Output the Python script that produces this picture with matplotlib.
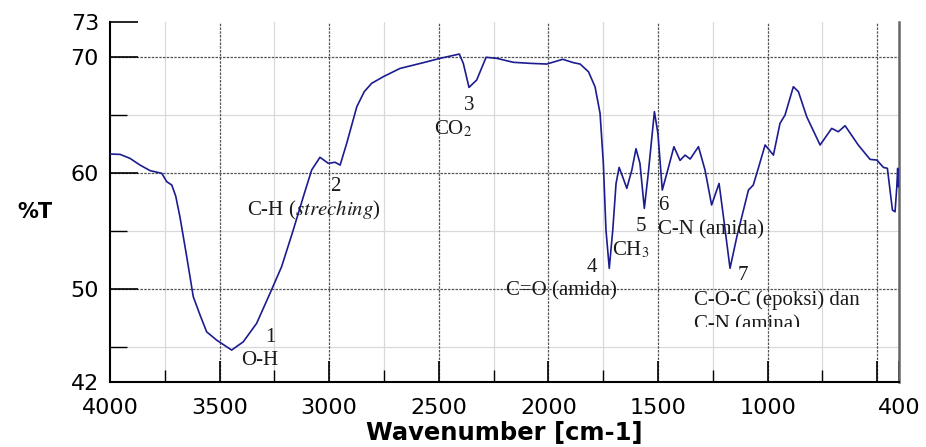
import numpy as np
import matplotlib
matplotlib.use('Agg')
import matplotlib.pyplot as plt
from matplotlib.transforms import Bbox, TransformedBbox

plt.rcParams['font.family'] = ['DejaVu Sans']
plt.rcParams['mathtext.fontset'] = 'stix'

# spektrum FTIR
wavenumber = [4000, 3954, 3909, 3863, 3817, 3764, 3741, 3718, 3700, 3681, 3650,
              3620, 3589, 3559, 3513, 3445, 3392, 3331, 3270, 3217, 3164,
              3118, 3080, 3042, 3004, 2973, 2950, 2920, 2874, 2840, 2806, 2753,
              2677, 2570, 2494, 2406, 2388, 2362, 2327, 2284, 2235, 2160,
              2084, 2007, 1934, 1886, 1855, 1817, 1787, 1764, 1749, 1737,
              1722, 1706, 1691, 1677, 1661, 1642, 1619, 1600, 1582, 1562,
              1544, 1516, 1500, 1480, 1453, 1427, 1399, 1376, 1353, 1315,
              1285, 1255, 1221, 1201, 1171, 1140, 1087, 1065, 1042, 1011,
              973, 943, 920, 882, 859, 821, 760, 707, 677, 646,
              586, 532, 501, 471, 453, 430, 418, 410, 406, 403, 400]
transmittance = [61.63, 61.6, 61.26, 60.68, 60.2, 59.97, 59.25, 58.96, 58.0, 56.23, 52.8,
                 49.34, 47.76, 46.32, 45.6, 44.75, 45.46, 47.05, 49.63, 51.93, 55.08,
                 57.95, 60.25, 61.35, 60.83, 60.92, 60.68, 62.55, 65.7, 67.0, 67.72, 68.29,
                 69.0, 69.5, 69.87, 70.24, 69.44, 67.37, 68.0, 69.96, 69.87, 69.53,
                 69.44, 69.38, 69.79, 69.5, 69.38, 68.72, 67.43, 65.14, 60.83, 55.08,
                 51.79, 55.08, 59.1, 60.48, 59.68, 58.68, 60.25, 62.09, 60.83, 56.95,
                 59.97, 65.28, 63.4, 58.53, 60.4, 62.26, 61.08, 61.54, 61.2, 62.26,
                 60.25, 57.24, 59.1, 56.23, 51.79, 54.5, 58.53, 58.96, 60.4, 62.41,
                 61.54, 64.27, 64.99, 67.43, 67.0, 64.84, 62.41, 63.84, 63.55, 64.07,
                 62.41, 61.17, 61.11, 60.48, 60.4, 56.81, 56.66, 58.81, 60.4, 58.81, 59.0]

xticks = [4000, 3500, 3000, 2500, 2000, 1500, 1000, 500, 400]
xticklabels = ['4000', '3500', '3000', '2500', '2000', '1500', '1000', '', '400']
xminor = [3750, 3250, 2750, 2250, 1750, 1250, 750]
yticks = [73, 70, 60, 50, 42]
ygrid = [70, 60, 50]
yminor = [65, 55, 45]

# label puncak: (teks, x, y, rata)
peak_labels = [
    ('1', 3270, 45.44, 'center'),
    ('O-H', 3316, 43.46, 'center'),
    ('2', 2973, 58.45, 'center'),
    ('C-H ($\\mathit{streching}$)', 3069, 56.38, 'center'),
    ('3', 2362, 65.42, 'center'),
    ('CO$_2$', 2435, 63.36, 'center'),
    ('4', 1801, 51.47, 'center'),
    ('C=O (amida)', 1938, 49.49, 'center'),
    ('5', 1577, 55.0, 'center'),
    ('CH$_3$', 1623, 52.94, 'center'),
    ('6', 1477, 56.81, 'center'),
    ('C-N (amida)', 1500, 54.66, 'left'),
    ('7', 1112, 50.78, 'center'),
    ('C-O-C (epoksi) dan', 1335, 48.63, 'left'),
]

fig = plt.figure(figsize=(9.26, 4.47), dpi=100)
ax = fig.add_axes([110/926, 1-382/447, 789/926, 360/447])

ax.plot(wavenumber, transmittance, color='#1c1c90', lw=1.2, zorder=3)

ax.set_xlim(4000, 400)
ax.set_ylim(42, 73)

ax.set_xticks(xticks)
ax.set_xticklabels(xticklabels)
ax.set_xticks(xminor, minor=True)
ax.set_yticks(yticks)
ax.set_yticks(yminor, minor=True)

ax.tick_params(axis='both', which='both', direction='in', labelsize=16, top=False, right=False)
ax.tick_params(axis='x', which='major', length=15, width=1.2, pad=11.5)
ax.tick_params(axis='x', which='minor', length=9, width=1.0)
ax.tick_params(axis='y', which='major', length=20, width=1.2, pad=8)
ax.tick_params(axis='y', which='minor', length=12, width=1.0)

# grid
for v in xminor:
    ax.axvline(v, color='#d9d9d9', lw=0.9, zorder=1)
for v in yminor:
    ax.axhline(v, color='#d9d9d9', lw=0.9, zorder=1)
for v in xticks[1:-1]:
    ax.axvline(v, color='#555555', lw=0.9, ls=(0, (2, 1)), zorder=1)
for v in ygrid:
    ax.axhline(v, color='#555555', lw=0.9, ls=(0, (2, 1)), zorder=1)

ax.spines['top'].set_visible(False)
ax.spines['left'].set_linewidth(1.5)
ax.spines['bottom'].set_linewidth(1.5)
ax.spines['right'].set_linewidth(1.8)
ax.spines['right'].set_color('#666666')

serif = ['Liberation Serif', 'DejaVu Serif']
for txt, x, y, ha in peak_labels:
    ax.text(x, y, txt, ha=ha, va='baseline', fontsize=15,
            family=serif, color='#1a1a1a', zorder=4)

# baris terakhir terpotong di bawah
t = ax.text(1335, 46.5, 'C-N (amina)', ha='left', va='baseline', fontsize=15,
            family=serif, color='#1a1a1a', zorder=4)
cut = (46.74 - 42) / (73 - 42)
t.set_clip_box(TransformedBbox(Bbox([[0, cut], [1, 1]]), ax.transAxes))
t.set_clip_on(True)

fig.text(35/926, 1-212/447, '%T', ha='center', va='center', fontsize=15, fontweight='bold')
ax.set_xlabel('Wavenumber [cm-1]', fontsize=17.5, fontweight='bold', labelpad=2.5)

fig.savefig('out.png', dpi=100)
